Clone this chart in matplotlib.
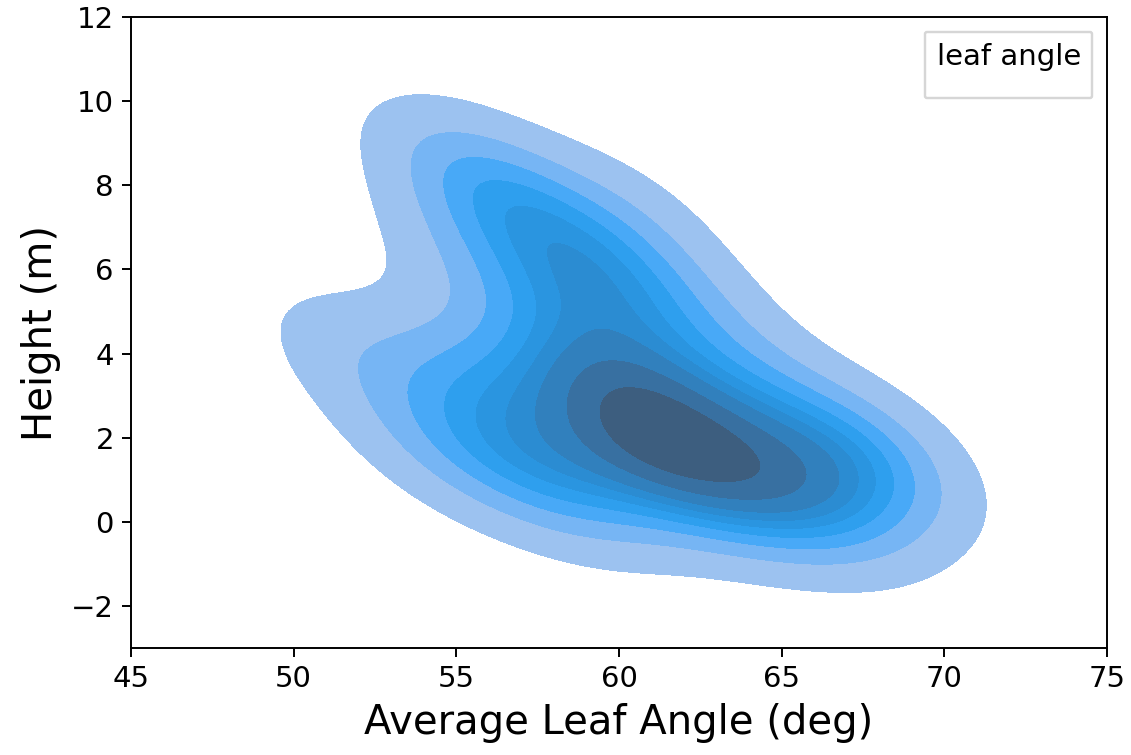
import matplotlib
matplotlib.use("Agg")
import matplotlib.pyplot as plt
import matplotlib.patches as mpatches
import seaborn as sns

# leaf angle (deg) and height (m) of sampled leaves
leaf_angle = [59.5, 60.5, 61.0, 61.5, 62.5, 60.0, 63.5, 59.2, 62.0, 60.8,
              65.0, 66.5, 67.3, 67.0, 64.5, 66.0, 63.0, 68.2,
              58.8, 58.0, 57.0, 56.0, 55.3, 57.5, 56.5, 55.0, 59.5, 59.5,
              55.0, 54.0, 51.7, 56.0, 58.0, 57.0,
              59.0, 61.5, 64.5,
              61.5, 63.5, 60.0]
height = [2.8, 2.4, 3.2, 2.1, 1.8, 1.8, 1.5, 3.8, 2.8, 1.6,
          1.0, 0.8, 1.2, 2.0, 2.5, 0.6, 0.8, 1.6,
          5.4, 6.5, 7.5, 8.0, 6.3, 4.0, 3.0, 8.5, 6.0, 4.8,
          3.5, 2.0, 4.0, 1.3, 0.9, 2.0,
          0.8, 0.9, 0.5,
          5.5, 4.0, 7.3]

fig = plt.figure(figsize=(1131 / 175, 755 / 175), dpi=175)
ax = fig.add_axes([0.1158, 0.1417, 0.8630, 0.8358])

sns.kdeplot(x=leaf_angle, y=height, fill=True, ax=ax)

ax.set_xlim(45, 75)
ax.set_ylim(-3, 12)
ax.set_xticks([45, 50, 55, 60, 65, 70, 75])
ax.set_yticks([-2, 0, 2, 4, 6, 8, 10, 12])
ax.tick_params(labelsize=12)
ax.set_xlabel("Average Leaf Angle (deg)", fontsize=16.5)
ax.set_ylabel("Height (m)", fontsize=16.5)

# legend shows only its title, as in the original figure
blank = mpatches.Patch(visible=False)
ax.legend(handles=[blank], labels=[""], title="leaf angle", loc="upper right",
          fontsize=4, title_fontsize=12, borderaxespad=1.5, borderpad=1.2)

fig.savefig("out.png", dpi=175)
